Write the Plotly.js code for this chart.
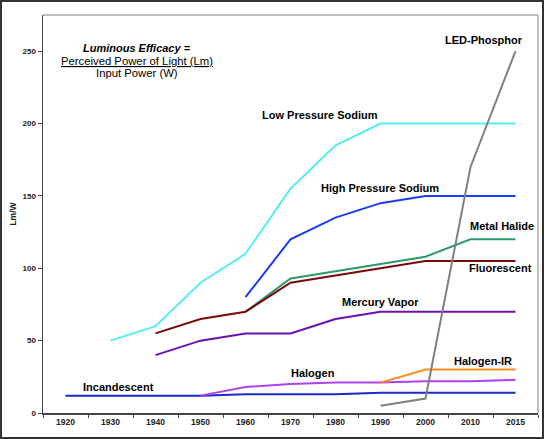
<!DOCTYPE html>
<html><head><meta charset="utf-8">
<script src="https://cdn.plot.ly/plotly-3.0.1.min.js"></script>
<style>
html,body{margin:0;padding:0;background:#fff;}
#wrap{position:relative;width:544px;height:439px;}
#chart{width:544px;height:439px;}
#frame{position:absolute;left:0;top:0;width:544px;height:439px;box-sizing:border-box;border:2px solid #333;pointer-events:none;}
</style></head>
<body><div id="wrap"><div id="chart"></div><div id="frame"></div></div>
<script>
const years = ["1920","1930","1940","1950","1960","1970","1980","1990","2000","2010","2015"];
const lowPressureSodium = [null,50,60,90,110,155,185,200,200,200,200];
const highPressureSodium = [null,null,null,null,80,120,135,145,150,150,150];
const metalHalide = [null,null,null,null,70,93,98,103,108,120,120];
const fluorescent = [null,null,55,65,70,90,95,100,105,105,105];
const mercuryVapor = [null,null,40,50,55,55,65,70,70,70,70];
const halogen = [null,null,null,12,18,20,21,21,22,22,23];
const halogenIR = [null,null,null,null,null,null,null,21,30,30,30];
const incandescent = [12,12,12,12,13,13,13,14,14,14,14];
const ledPhosphor = [null,null,null,null,null,null,null,5,10,170,250];
const yTicks = [0,50,100,150,200,250];

const series = [
  {name:"Incandescent", y:incandescent, color:"#1a2acc"},
  {name:"Halogen", y:halogen, color:"#b040f0"},
  {name:"Halogen-IR", y:halogenIR, color:"#ff8c1a"},
  {name:"Mercury Vapor", y:mercuryVapor, color:"#6a10b0"},
  {name:"Metal Halide", y:metalHalide, color:"#2a9a6a"},
  {name:"Fluorescent", y:fluorescent, color:"#7a0a0a"},
  {name:"High Pressure Sodium", y:highPressureSodium, color:"#1a3cf5"},
  {name:"Low Pressure Sodium", y:lowPressureSodium, color:"#55eeee"},
  {name:"LED-Phosphor", y:ledPhosphor, color:"#808080"}
];
const traces = series.map(s => ({
  type:"scatter", mode:"lines", x:years, y:s.y, name:s.name,
  line:{color:s.color, width:2}, connectgaps:false, hoverinfo:"x+y+name"
}));

const lab = (text,x,y,extra) => Object.assign({text:"<b>"+text+"</b>", x:x, y:y, xref:"x", yref:"y",
  showarrow:false, font:{family:"Liberation Sans, Arial, sans-serif", size:11, color:"#000"}}, extra||{});

const layout = {
  width:544, height:439,
  margin:{l:43, r:6, t:15, b:26},
  paper_bgcolor:"#fff", plot_bgcolor:"#fff",
  showlegend:false,
  font:{family:"Liberation Sans, Arial, sans-serif", color:"#000"},
  xaxis:{type:"category", categoryorder:"array", categoryarray:years, range:[-0.5,10.5],
    showgrid:false, zeroline:false, showline:true, linecolor:"#444", linewidth:1.5,
    ticks:"outside", tickson:"boundaries", ticklen:3, tickcolor:"#444",
    tickfont:{size:8.5, family:"Liberation Sans, Arial, sans-serif", weight:"bold", color:"#222"}},
  yaxis:{range:[0,275], tickvals:yTicks, showgrid:false, zeroline:false, showline:true,
    linecolor:"#444", linewidth:1.5, ticks:"outside", ticklen:4, tickcolor:"#444",
    tickfont:{size:8, family:"Liberation Sans, Arial, sans-serif", weight:"bold", color:"#222"},
    title:{text:"Lm/W", standoff:4, font:{size:8.5, family:"Liberation Sans, Arial, sans-serif", weight:"bold", color:"#222"}}},
  shapes:[
    {type:"line", xref:"paper", yref:"paper", x0:0, x1:1, y0:1, y1:1, line:{color:"#aaa", width:1.5}},
    {type:"line", xref:"paper", yref:"paper", x0:1, x1:1, y0:0, y1:1, line:{color:"#aaa", width:1.5}}
  ],
  annotations:[
    lab("LED-Phosphor", 9.3, 258),
    lab("Low Pressure Sodium", 5.66, 206),
    lab("High Pressure Sodium", 6.99, 155.5),
    lab("Metal Halide", 9.7, 129),
    lab("Fluorescent", 9.66, 100),
    lab("Mercury Vapor", 6.99, 76.7),
    lab("Halogen-IR", 9.28, 36),
    lab("Halogen", 5.5, 27.6),
    lab("Incandescent", 1.17, 18),
    {text:"<b><i>Luminous Efficacy =</i></b>", x:1.59, y:252, xref:"x", yref:"y", showarrow:false,
      font:{size:11, family:"Liberation Sans, Arial, sans-serif", color:"#000"}},
    {text:"<span style=\"text-decoration:underline\">Perceived Power of Light (Lm)</span>", x:1.59, y:243, xref:"x", yref:"y", showarrow:false,
      font:{size:11.3, family:"Liberation Sans, Arial, sans-serif", color:"#000"}},
    {text:"Input Power (W)", x:1.59, y:234.6, xref:"x", yref:"y", showarrow:false,
      font:{size:11.3, family:"Liberation Sans, Arial, sans-serif", color:"#000"}}
  ]
};
Plotly.newPlot("chart", traces, layout, {displayModeBar:false, staticPlot:true});
</script></body></html>
